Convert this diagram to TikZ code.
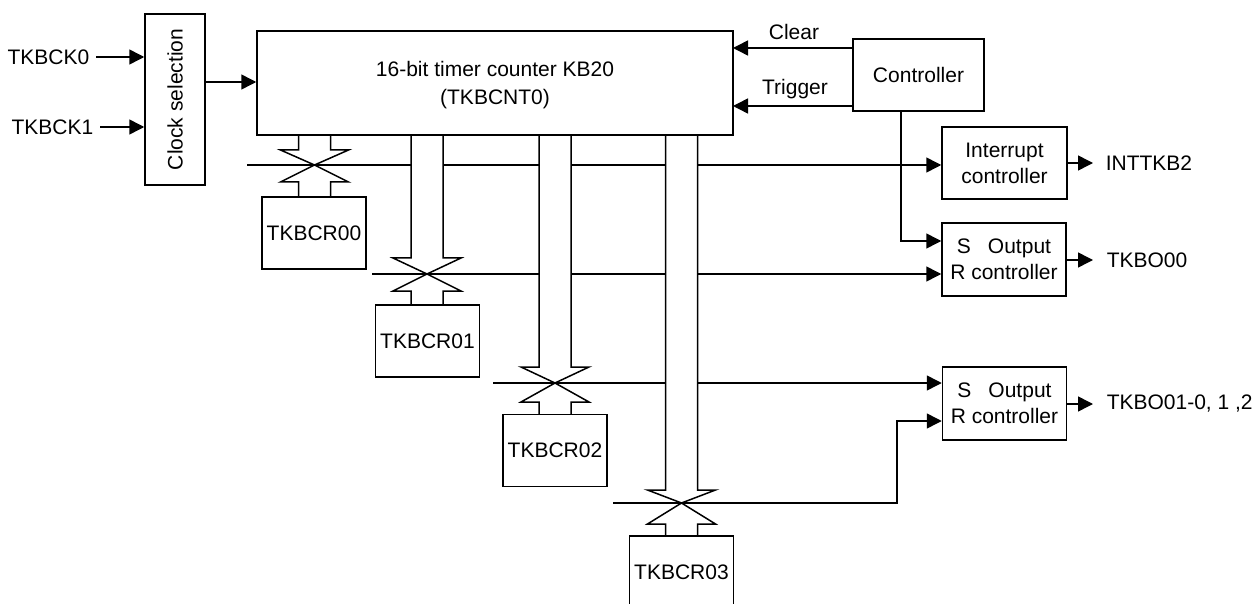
\documentclass[tikz,border=0pt]{standalone}
\usepackage{fontspec}
\setmainfont{Liberation Sans}
\usetikzlibrary{arrows.meta}
\newcommand\busarr[5]{%
 \filldraw[fill=white] ({#1-16},135) -- ({#1-16},#2) -- ({#1-34},#2) -- (#1,#3) -- ({#1+34},#2) -- ({#1+16},#2) -- ({#1+16},135);
 \filldraw[fill=white] ({#1-16},#5) -- ({#1-16},#4) -- ({#1-34},#4) -- (#1,#3) -- ({#1+34},#4) -- ({#1+16},#4) -- ({#1+16},#5);
}
\begin{document}
\begin{tikzpicture}[x=1pt,y=-1pt,line width=1.5pt,
  box/.style={draw,fill=white,inner sep=0pt,align=center},
  lbl/.style={inner sep=0pt},
  arr/.style={-{Triangle[length=15pt,width=15pt]}},
  font=\fontsize{21}{26}\selectfont]
\clip (0,0) rectangle (1256,604);
% left inputs
\node[box,minimum width=60pt,minimum height=171pt] (clk) at (175,99.5) {};
\node[rotate=90,lbl] (clkt) at (clk.center) {Clock selection};
\node[lbl,anchor=east,inner xsep=6pt] (ck0) at (96,57) {TKBCK0};
\node[lbl,anchor=east,inner xsep=6pt] (ck1) at (100,127) {TKBCK1};
\draw[arr] (ck0.east) -- (ck0.east -| clk.west);
\draw[arr] (ck1.east) -- (ck1.east -| clk.west);
% right-hand boxes
\node[box,minimum width=131pt,minimum height=72pt] (ctrl) at (918.5,75) {Controller};
\node[box,minimum width=125pt,minimum height=72pt] (int) at (1004.5,163) {Interrupt\\controller};
\node[box,minimum width=124pt,minimum height=73pt] (out1) at (1004,259.5) {S\hspace{17pt}Output\\R controller};
\node[box,minimum width=124pt,minimum height=73pt] (out2) at (1004.5,403.5) {S\hspace{17pt}Output\\R controller};
% outputs
\node[lbl,anchor=west,inner xsep=12pt] (inttkb) at (1093,163) {INTTKB2};
\node[lbl,anchor=west,inner xsep=13pt] (tkbo0) at (1093,260) {TKBO00};
\node[lbl,anchor=west,inner xsep=13pt] (tkbo1) at (1093,404) {TKBO01-0, 1 ,2};
\draw[arr] (int.east |- inttkb.west) -- (inttkb.west);
\draw[arr] (out1.east |- tkbo0.west) -- (tkbo0.west);
\draw[arr] (out2.east |- tkbo1.west) -- (tkbo1.west);
% controller links
\coordinate (clr) at (853,48);
\coordinate (trg) at (853,106);
\coordinate (cv) at (901,241);
\draw[arr] (clr) -- (733,48) coordinate (clrE);
\draw[arr] (trg) -- (733,106) coordinate (trgE);
\node[lbl,anchor=base] (clrt) at (794,39.5) {Clear};
\node[lbl,anchor=base] (trgt) at (795,95) {Trigger};
\draw[arr] (ctrl.south -| cv) -- (cv) -- (cv -| out1.west);
% bus lines
\coordinate (l0) at (247,165);
\coordinate (l1) at (372,274);
\coordinate (l2) at (493,383);
\coordinate (l3) at (613,503);
\coordinate (l3c) at (897,503);
\coordinate (l3d) at (897,421);
\draw[arr] (l0) -- (l0 -| int.west);
\draw[arr] (l1) -- (l1 -| out1.west);
\draw[arr] (l2) -- (l2 -| out2.west);
\draw[arr] (l3) -- (l3c) -- (l3d) -- (l3d -| out2.west);
% hollow bus arrows
\busarr{314.5}{150}{165}{182}{197}
\busarr{427}{258}{274}{291}{305}
\busarr{555}{367}{383}{402}{414}
\busarr{681.5}{490}{503}{524}{536}
% counter and registers
\node[box,minimum width=476pt,minimum height=104pt] (cnt) at (495,83) {};
\node[lbl,align=center,font=\fontsize{21}{28}\selectfont] (cntt) at (495,85) {16-bit timer counter KB20\\(TKBCNT0)};
\draw[arr] (clk.east |- 0,82) -- (cnt.west |- 0,82);
\node[box,minimum width=104pt,minimum height=72pt] (r0) at (314,233) {TKBCR00};
\node[box,minimum width=104pt,minimum height=72pt] (r1) at (427.5,341) {TKBCR01};
\node[box,minimum width=104pt,minimum height=72pt] (r2) at (555,450.5) {TKBCR02};
\node[box,minimum width=104pt,minimum height=72pt] (r3) at (681.5,572) {TKBCR03};
\end{tikzpicture}
\end{document}
